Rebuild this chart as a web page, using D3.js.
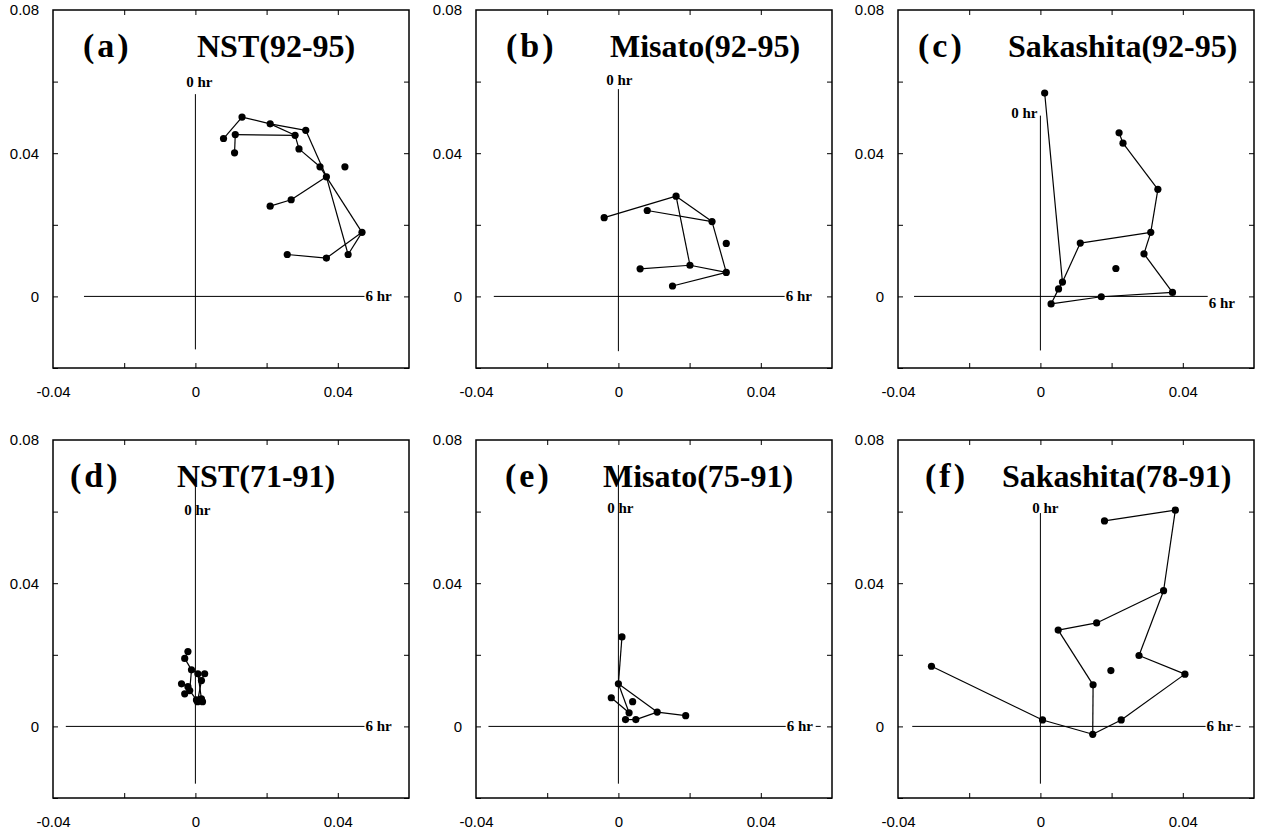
<!DOCTYPE html>
<html>
<head>
<meta charset="utf-8">
<script src="https://cdn.jsdelivr.net/npm/d3@7"></script>
<style>
  body { margin: 0; background: #fff; }
  .tick text { font-family: "Liberation Sans", Arial, sans-serif; font-size: 15px; fill: #000; }
  .tick line { stroke: #000; stroke-width: 1; }
</style>
</head>
<body>
<div class="canvas"></div>
<script>
// Panel letters and titles
const letters = ['(a)', '(b)', '(c)', '(d)', '(e)', '(f)'];
const titles = ['NST(92-95)', 'Misato(92-95)', 'Sakashita(92-95)', 'NST(71-91)', 'Misato(75-91)', 'Sakashita(78-91)'];

// Axis ticks
const xTicks = [-0.02, 0, 0.02, 0.04];
const yTicks = [-0.02, 0, 0.02, 0.04, 0.06];
const xTickLabels = [-0.04, 0, 0.04];
const yTickLabels = [0, 0.04, 0.08];

// (a) NST 92-95 : points [x, y] and connecting segments (index pairs)
const ptsA = [[0.0079, 0.0441], [0.0112, 0.0452], [0.0110, 0.0401], [0.0131, 0.0501], [0.0210, 0.0482],
  [0.0280, 0.0450], [0.0310, 0.0464], [0.0291, 0.0412], [0.0350, 0.0362], [0.0420, 0.0362],
  [0.0368, 0.0334], [0.0269, 0.0270], [0.0210, 0.0252], [0.0468, 0.0179], [0.0429, 0.0117],
  [0.0368, 0.0107], [0.0258, 0.0117]];
const linksA = [[0, 3], [3, 4], [4, 6], [4, 5], [1, 5], [1, 2], [5, 7], [7, 8], [8, 10], [6, 10],
  [10, 13], [10, 14], [10, 11], [11, 12], [13, 14], [13, 15], [15, 16]];

// (b) Misato 92-95
const ptsB = [[-0.0040, 0.0220], [0.0081, 0.0240], [0.0162, 0.0280], [0.0263, 0.0209], [0.0303, 0.0148],
  [0.0201, 0.0087], [0.0061, 0.0077], [0.0303, 0.0067], [0.0152, 0.0029]];
const linksB = [[0, 2], [2, 3], [1, 3], [2, 5], [3, 7], [5, 6], [5, 7], [7, 8]];

// (c) Sakashita 92-95
const ptsC = [[0.0012, 0.0568], [0.0221, 0.0457], [0.0232, 0.0428], [0.0330, 0.0299], [0.0310, 0.0179],
  [0.0112, 0.0149], [0.0291, 0.0119], [0.0212, 0.0078], [0.0062, 0.0040], [0.0051, 0.0021],
  [0.0371, 0.0011], [0.0171, -0.0001], [0.0030, -0.0021]];
const linksC = [[0, 8], [1, 2], [2, 3], [3, 4], [4, 5], [4, 6], [6, 10], [5, 8], [8, 9], [9, 12], [12, 11], [11, 10]];

// (d) NST 71-91
const ptsD = [[-0.0021, 0.0209], [-0.0030, 0.0190], [-0.0011, 0.0158], [0.0007, 0.0147], [0.0026, 0.0147],
  [0.0017, 0.0128], [-0.0039, 0.0119], [-0.0021, 0.0111], [-0.0016, 0.0100], [-0.0030, 0.0091],
  [0.0003, 0.0074], [0.0017, 0.0077], [0.0006, 0.0069], [0.0020, 0.0069]];
const linksD = [[0, 1], [1, 2], [2, 3], [3, 5], [4, 5], [5, 12], [2, 8], [6, 7], [7, 8], [8, 9],
  [8, 10], [10, 11], [11, 13], [3, 11]];

// (e) Misato 75-91
const ptsE = [[0.0010, 0.0250], [0.0000, 0.0119], [-0.0020, 0.0080], [0.0040, 0.0069], [0.0030, 0.0038],
  [0.0109, 0.0040], [0.0189, 0.0030], [0.0020, 0.0019], [0.0049, 0.0019]];
const linksE = [[0, 1], [1, 4], [1, 5], [2, 4], [5, 6], [5, 8], [7, 8]];

// (f) Sakashita 78-91
const ptsF = [[0.0180, 0.0574], [0.0379, 0.0604], [0.0346, 0.0379], [0.0158, 0.0289], [0.0050, 0.0269],
  [0.0277, 0.0198], [0.0198, 0.0156], [0.0406, 0.0146], [0.0148, 0.0116], [-0.0306, 0.0168],
  [0.0006, 0.0018], [0.0227, 0.0018], [0.0147, -0.0022]];
const linksF = [[0, 1], [1, 2], [2, 3], [3, 4], [4, 8], [8, 12], [2, 5], [5, 7], [7, 11], [11, 12], [12, 10], [10, 9]];

const allPts = [ptsA, ptsB, ptsC, ptsD, ptsE, ptsF];
const allLinks = [linksA, linksB, linksC, linksD, linksE, linksF];

// Layout (pixels / guide extents), kept apart from the data
const W = 356, H = 358;
const colX = [53, 476, 898];
const rowY = [10, 440];
const layout = [
  { lx: 30, tx: 144, hx: [-0.0313, 0.0475], vy: [-0.0148, 0.0565], zx: 4, zy: 77, zAnchor: 'middle', sDy: 5, tail: false },
  { lx: 30, tx: 134, hx: [-0.0350, 0.0467], vy: [-0.0153, 0.0579], zx: 1, zy: 75, zAnchor: 'middle', sDy: 5, tail: false },
  { lx: 20, tx: 110, hx: [-0.0355, 0.0470], vy: [-0.0151, 0.0505], zx: -3, zy: 108, zAnchor: 'end', sDy: 12, tail: false },
  { lx: 17, tx: 124, hx: [-0.0364, 0.0475], vy: [-0.0160, 0.0670], zx: 2, zy: 75, zAnchor: 'middle', sDy: 5, tail: false },
  { lx: 29, tx: 127, hx: [-0.0365, 0.0470], vy: [-0.0160, 0.0730], zx: 2, zy: 73, zAnchor: 'middle', sDy: 5, tail: true },
  { lx: 27, tx: 104, hx: [-0.0360, 0.0464], vy: [-0.0160, 0.0596], zx: 5, zy: 73, zAnchor: 'middle', sDy: 5, tail: true }
];

const svg = d3.select('.canvas')
  .append('svg')
  .attr('width', 1266)
  .attr('height', 833);

const fmt = (d) => (d === 0 ? '0' : d.toFixed(2));
const serif = '"Liberation Serif", "Times New Roman", serif';

allPts.forEach((pts, i) => {
  const lay = layout[i];
  const g = svg.append('g')
    .attr('transform', `translate(${colX[i % 3]},${rowY[Math.floor(i / 3)]})`);

  const x = d3.scaleLinear().domain([-0.04, 0.06]).range([0, W]);
  const y = d3.scaleLinear().domain([-0.02, 0.08]).range([H, 0]);

  // tick labels (bottom and left), no marks on the frame corners
  g.append('g')
    .attr('transform', `translate(0,${H})`)
    .call(d3.axisBottom(x).tickValues(xTickLabels).tickSize(0).tickPadding(18).tickFormat(fmt))
    .call((a) => a.select('.domain').remove());
  g.append('g')
    .call(d3.axisLeft(y).tickValues(yTickLabels).tickSize(0).tickPadding(14).tickFormat(fmt))
    .call((a) => a.select('.domain').remove());

  // inward tick marks on all four sides
  g.append('g')
    .attr('transform', `translate(0,${H})`)
    .call(d3.axisBottom(x).tickValues(xTicks).tickSize(-5).tickFormat(''))
    .call((a) => a.select('.domain').remove());
  g.append('g')
    .call(d3.axisLeft(y).tickValues(yTicks).tickSize(-5).tickFormat(''))
    .call((a) => a.select('.domain').remove());
  g.append('g')
    .call(d3.axisTop(x).tickValues(xTicks).tickSize(-5).tickFormat(''))
    .call((a) => a.select('.domain').remove());
  g.append('g')
    .attr('transform', `translate(${W},0)`)
    .call(d3.axisRight(y).tickValues(yTicks).tickSize(-5).tickFormat(''))
    .call((a) => a.select('.domain').remove());

  // frame
  g.append('rect')
    .attr('width', W).attr('height', H)
    .attr('fill', 'none').attr('stroke', '#000').attr('stroke-width', 1.5);

  // cross-hair guide lines
  g.append('line')
    .attr('x1', x(lay.hx[0])).attr('x2', x(lay.hx[1]))
    .attr('y1', y(0)).attr('y2', y(0))
    .attr('stroke', '#000').attr('stroke-width', 1);
  if (lay.tail) {
    g.append('line')
      .attr('x1', x(lay.hx[1]) + 30).attr('x2', x(lay.hx[1]) + 35)
      .attr('y1', y(0)).attr('y2', y(0))
      .attr('stroke', '#000').attr('stroke-width', 1);
  }
  g.append('line')
    .attr('x1', x(0)).attr('x2', x(0))
    .attr('y1', y(lay.vy[1])).attr('y2', y(lay.vy[0]))
    .attr('stroke', '#000').attr('stroke-width', 1);

  // hour labels
  g.append('text')
    .attr('x', x(0) + lay.zx).attr('y', lay.zy)
    .attr('text-anchor', lay.zAnchor)
    .style('font-family', serif).style('font-size', '15px').style('font-weight', 'bold')
    .text('0 hr');
  g.append('text')
    .attr('x', x(lay.hx[1]) + 1).attr('y', y(0) + lay.sDy)
    .style('font-family', serif).style('font-size', '15px').style('font-weight', 'bold')
    .text('6 hr');

  // titles
  g.append('text')
    .attr('x', lay.lx).attr('y', 47)
    .style('font-family', serif).style('font-size', '34px').style('font-weight', 'bold')
    .style('letter-spacing', '3px')
    .text(letters[i]);
  g.append('text')
    .attr('x', lay.tx).attr('y', 47)
    .style('font-family', serif).style('font-size', '32px').style('font-weight', 'bold')
    .text(titles[i]);

  // connecting segments
  g.selectAll('line.link')
    .data(allLinks[i])
    .join('line')
    .attr('class', 'link')
    .attr('x1', (d) => x(pts[d[0]][0]))
    .attr('y1', (d) => y(pts[d[0]][1]))
    .attr('x2', (d) => x(pts[d[1]][0]))
    .attr('y2', (d) => y(pts[d[1]][1]))
    .attr('stroke', '#000')
    .attr('stroke-width', 1.2);

  // points
  g.selectAll('circle')
    .data(pts)
    .join('circle')
    .attr('cx', (d) => x(d[0]))
    .attr('cy', (d) => y(d[1]))
    .attr('r', 3.6)
    .attr('fill', '#000');
});
</script>
</body>
</html>
